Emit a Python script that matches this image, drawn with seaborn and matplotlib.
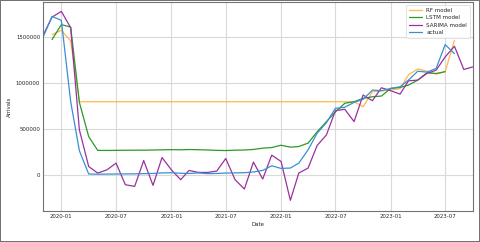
import numpy as np
import pandas as pd
import matplotlib
matplotlib.use("Agg")
import matplotlib.pyplot as plt
import matplotlib.dates as mdates
import seaborn as sns

nan = np.nan
months = pd.date_range("2019-11-01", "2023-10-01", freq="MS")

rf_model = [nan, 1529000, 1576000, 1460000,
            797000, 797000, 797000, 797000, 797000, 797000, 797000, 797000, 797000, 797000,
            797000, 797000, 797000, 797000, 797000, 797000, 797000, 797000, 797000, 797000,
            797000, 797000, 797000, 797000, 797000, 797000, 797000, 797000, 797000, 797000,
            797000, 742000, 905000, 915000, 925000, 940000, 1090000, 1155000, 1130000,
            1098000, 1125000, 1467000, nan, nan]

lstm_model = [nan, 1475000, 1638000, 1612000, 790000, 416000, 266000, 265000, 266000,
              267000, 268000, 268000, 270000, 272000, 274000, 272000, 275000, 273000,
              270000, 266000, 264000, 268000, 270000, 276000, 290000, 297000, 322000,
              301000, 308000, 345000, 468000, 580000, 685000, 780000, 797000, 833000,
              851000, 859000, 942000, 953000, 978000, 1033000, 1112000, 1105000, 1125000,
              nan, nan, nan]

sarima_model = [1520000, 1720000, 1783000, 1605000, 490000, 90000, 18000, 54000, 127000,
                -109000, -127000, 155000, -116000, 188000, 54000, -54000, 47000, 25000,
                25000, 40000, 177000, -54000, -156000, 138000, -47000, 214000, 145000,
                -279000, 18000, 73000, 319000, 435000, 700000, 714000, 580000, 870000,
                808000, 949000, 917000, 880000, 1025000, 1033000, 1105000, 1141000,
                1286000, 1402000, 1149000, 1177000]

actual = [1500000, 1728000, 1685000, 800000, 262000, 8000, 6000, 7000, 8000, 9000, 10000,
          12000, 14000, 20000, 22000, 16000, 14000, 20000, 12000, 14000, 18000, 20000,
          22000, 30000, 47000, 98000, 69000, 73000, 127000, 272000, 453000, 569000,
          725000, 736000, 790000, 823000, 924000, 917000, 942000, 960000, 1033000,
          1130000, 1120000, 1160000, 1420000, 1323000, nan, nan]

series_names = ["RF model", "LSTM model", "SARIMA model", "actual"]
series_values = [rf_model, lstm_model, sarima_model, actual]
series_colors = ["#ffb84a", "#2a9a2a", "#9b30a0", "#3a8fd0"]

sns.set_style("whitegrid", {"axes.edgecolor": "0.45", "grid.color": "0.85"})
plt.rcParams["font.family"] = ["DejaVu Sans"]

fig = plt.figure(figsize=(4.8, 2.42), dpi=100, edgecolor="0.45", linewidth=1.2)
ax = fig.add_axes([0.0896, 0.128, 0.8954, 0.864])

for name, vals, col in zip(series_names, series_values, series_colors):
    df = pd.DataFrame({"Date": months, "Arrivals": vals}).dropna()
    sns.lineplot(data=df, x="Date", y="Arrivals", color=col, label=name,
                 linewidth=0.9, ax=ax)

ax.set_xlim(pd.Timestamp("2019-11-01"), pd.Timestamp("2023-10-01"))
ax.set_ylim(-396000, 1886000)
ax.set_yticks([0, 500000, 1000000, 1500000])
ax.set_yticklabels(["0", "500000", "1000000", "1500000"])
ax.xaxis.set_major_locator(mdates.MonthLocator(bymonth=[1, 7]))
ax.xaxis.set_major_formatter(mdates.DateFormatter("%Y-%m"))
ax.tick_params(labelsize=3.9, pad=2, length=0)
ax.set_xlabel("Date", fontsize=3.9, labelpad=2)
ax.set_ylabel("Arrivals", fontsize=3.9, labelpad=2.5)
for s in ax.spines.values():
    s.set_linewidth(0.8)
ax.grid(linewidth=0.8)

leg = ax.legend(loc="upper right", fontsize=4.1, frameon=True, borderpad=0.5,
                handlelength=2.2, labelspacing=0.45)
leg.get_frame().set_linewidth(0.5)

fig.savefig("out.png", dpi=100)
